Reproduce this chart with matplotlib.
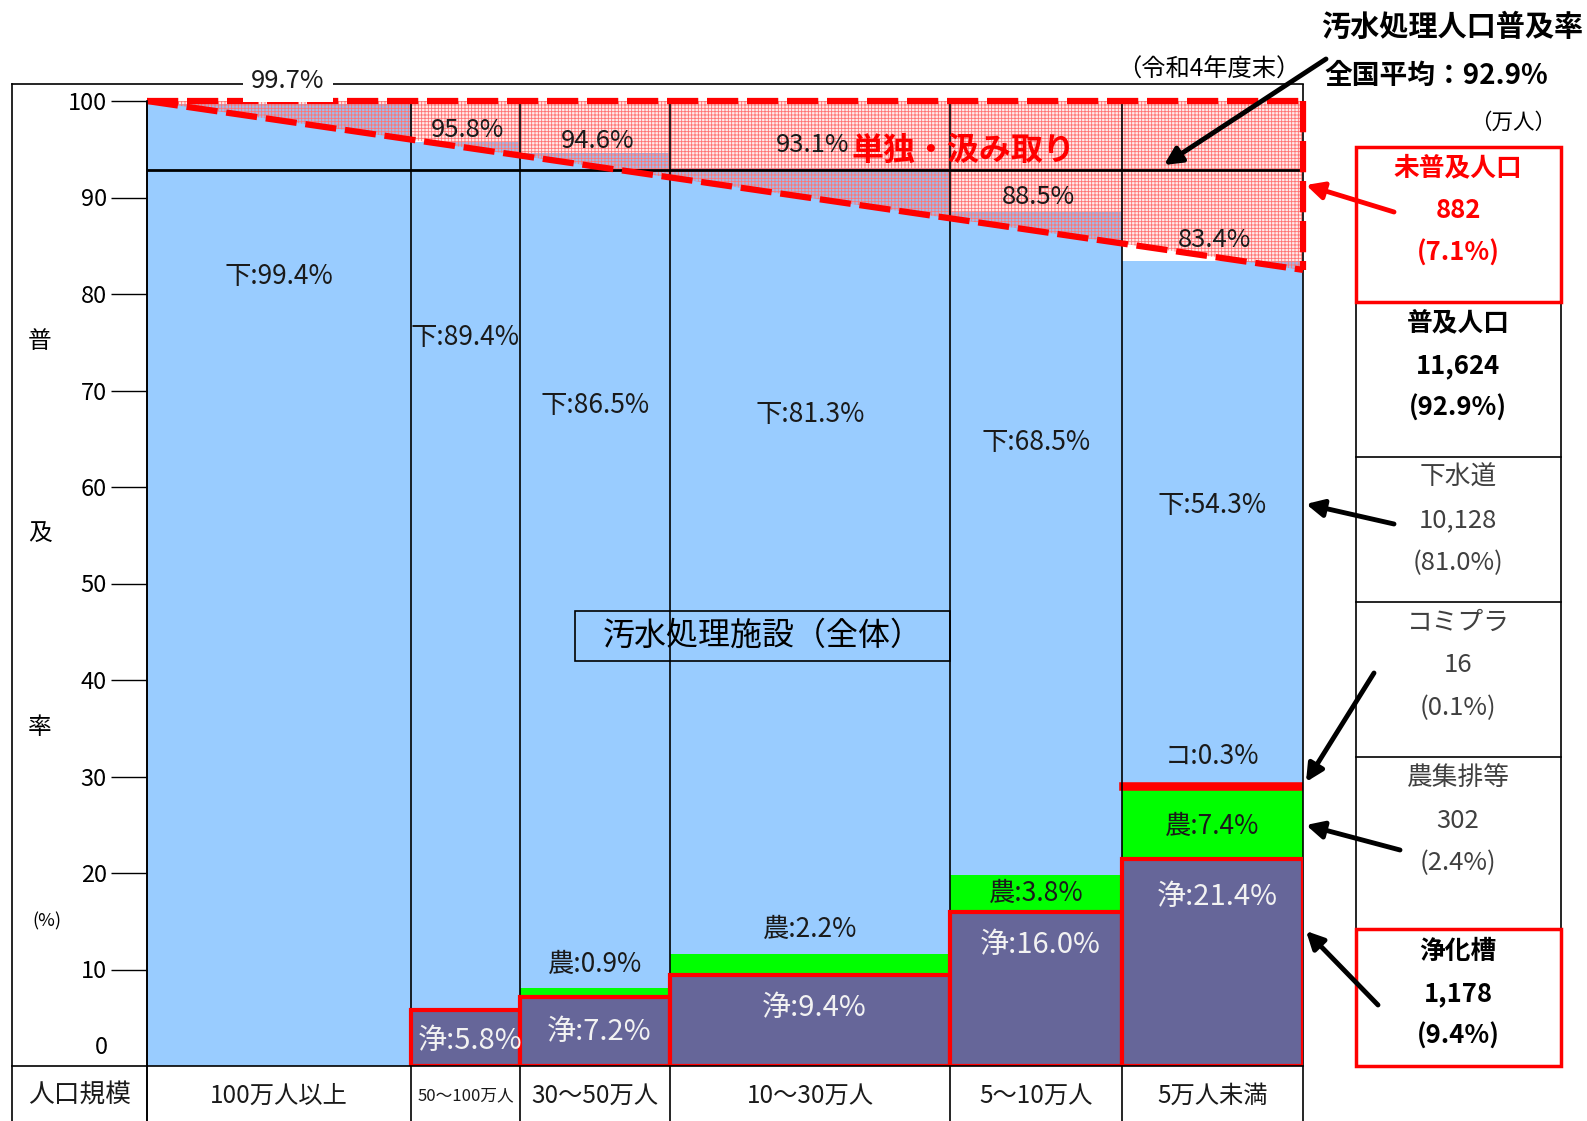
import numpy as np
import matplotlib.pyplot as plt

plt.rcParams['font.family'] = ['Noto Sans CJK JP', 'DejaVu Sans']
plt.rcParams['hatch.linewidth'] = 0.6

# Data (令和4年度末)
categories = ['100万人以上', '50～100万人', '30～50万人', '10～30万人', '5～10万人', '5万人未満']
pop_share = [22.8, 9.5, 12.9, 24.3, 14.8, 15.7]      # bar widths
total_rate = [99.7, 95.8, 94.6, 93.1, 88.5, 83.4]
sewer = [99.4, 89.4, 86.5, 81.3, 68.5, 54.3]
johkaso = [0, 5.8, 7.2, 9.4, 16.0, 21.4]
nousyu = [0, 0, 0.9, 2.2, 3.8, 7.4]
komipura = [0, 0, 0, 0, 0, 0.3]
national_avg = 92.9
diag_end = 82.5

panel_names = ['未普及人口', '普及人口', '下水道', 'コミプラ', '農集排等', '浄化槽']
panel_values = ['882', '11,624', '10,128', '16', '302', '1,178']
panel_pcts = ['(7.1%)', '(92.9%)', '(81.0%)', '(0.1%)', '(2.4%)', '(9.4%)']

# label placement (y in %)
sewer_lab_y = [81.8, 75.5, 68.4, 67.5, 64.6, 58.1]
joh_lab_y = [None, 2.6, 3.5, 6.0, 12.5, 17.5]
nou_lab_y = [None, None, 10.5, 14.2, 17.9, 24.8]
top_lab_y = [None, 97.0, 95.9, 95.4, 90.1, 85.6]

LBLUE = '#99CCFF'
PURPLE = '#666699'
GREEN = '#00FF00'
RED = '#FF0000'
GREY = '#404040'
TXT = '#1a1a1a'

fig = plt.figure(figsize=(15.87, 11.21), dpi=100)
ax = fig.add_axes([147 / 1587, 55 / 1121, 1156 / 1587, 965 / 1121])
ax.set_xlim(0, 100)
ax.set_ylim(0, 100)
for s in ax.spines.values():
    s.set_visible(False)
ax.set_xticks([])
ax.set_yticks(range(10, 101, 10))
ax.tick_params(axis='y', length=26, width=1, pad=3, labelsize=17)

w = np.array(pop_share)
left = np.concatenate([[0], np.cumsum(w)[:-1]])
centers = left + w / 2
joh = np.array(johkaso)
nou = np.array(nousyu)
kom = np.array(komipura)
blue = np.array(total_rate) - joh - nou - kom

# stacked bars
for i in range(len(categories)):
    if joh[i] > 0:
        ax.bar(left[i], joh[i], width=w[i], align='edge', color=PURPLE,
               edgecolor=RED, lw=3, zorder=5.5)
    if nou[i] > 0:
        ax.bar(left[i], nou[i], width=w[i], bottom=joh[i], align='edge',
               color=GREEN, lw=0, zorder=1)
    if kom[i] > 0:
        ax.bar(left[i], kom[i], width=w[i], bottom=joh[i] + nou[i], align='edge',
               color=RED, edgecolor=RED, lw=4, zorder=2)
    ax.bar(left[i], blue[i], width=w[i], bottom=joh[i] + nou[i] + kom[i],
           align='edge', color=LBLUE, lw=0, zorder=1)

# 単独・汲み取り overlay
ax.fill([0, 100, 100], [100, 100, diag_end], facecolor=(1, 0, 0, 0.08),
        lw=0, zorder=3)
ax.fill([0, 100, 100], [100, 100, diag_end], facecolor='none',
        edgecolor=(1, 0.45, 0.45), lw=0, hatch='+++++', zorder=3)

ax.plot([0, 100], [national_avg, national_avg], color='black', lw=2, zorder=4)

dash = dict(color=RED, lw=4.5, dashes=(5, 1.4), clip_on=False, zorder=6)
ax.plot([0, 100], [100, diag_end], **dash)
ax.plot([0, 100], [100, 100], **dash)
ax.plot([100, 100], [100, diag_end], **dash)

# column separators / table lines
ax.vlines(left, -5.7, 100, color='black', lw=1.2, clip_on=False, zorder=5)
ax.vlines(100, -5.7, 101.8, color='black', lw=1.2, clip_on=False, zorder=5)

# labels in bars
for i in range(len(categories)):
    ax.text(centers[i], sewer_lab_y[i], f'下:{sewer[i]}%', ha='center', va='center',
            fontsize=19, color=TXT, zorder=7)
    if joh_lab_y[i] is not None:
        ax.text(centers[i] + 0.4, joh_lab_y[i], f'浄:{joh[i]:.1f}%', ha='center',
                va='center', fontsize=21, color='#f2f2f2', zorder=7)
    if nou_lab_y[i] is not None:
        ax.text(centers[i], nou_lab_y[i], f'農:{nou[i]}%', ha='center', va='center',
                fontsize=19, color=TXT, zorder=7)
    if top_lab_y[i] is not None:
        ax.text(centers[i] + 0.2, top_lab_y[i], f'{total_rate[i]}%', ha='center',
                va='center', fontsize=18.5, color=TXT, zorder=7)
    ax.text(centers[i], -3.1, categories[i], ha='center', va='center',
            fontsize=12 if i == 1 else 17.5, color=TXT, clip_on=False)
ax.text(centers[5], 32.1, f'コ:{kom[5]}%', ha='center', va='center', fontsize=19,
        color=TXT, zorder=7)

ax.text(70.6, 94.8, '単独・汲み取り', ha='center', va='center', fontsize=23,
        fontweight='bold', color=RED, zorder=7)

# overlay in pixel coordinates for frame, panel and arrows
ov = fig.add_axes([0, 0, 1, 1])
ov.set_xlim(0, 1587)
ov.set_ylim(1121, 0)
ov.axis('off')
ov.patch.set_alpha(0)

ov.plot([12, 1303], [84, 84], color='black', lw=1.2)
ov.plot([12, 12], [84, 1121], color='black', lw=1.2)
ov.plot([12, 1303], [1066, 1066], color='black', lw=1.2)
ov.plot([147, 147], [101, 1121], color='black', lw=1.2)
ov.text(288, 81, '99.7%', ha='center', va='center', fontsize=18.5, color=TXT,
        bbox=dict(facecolor='white', edgecolor='none', pad=6))
ov.text(1209, 70, '（令和4年度末）', ha='center', va='center', fontsize=17.5)
ov.text(108, 1048, '0', ha='right', va='center', fontsize=17)
ov.text(80, 1096, '人口規模', ha='center', va='center', fontsize=18.5, color=TXT)

for ch, yy in zip(['普', '及', '率'], [342, 534, 727]):
    ov.text(40, yy, ch, ha='center', va='center', fontsize=17)
ov.text(47, 921, '(%)', ha='center', va='center', fontsize=13)

# 汚水処理施設（全体）
ov.add_patch(plt.Rectangle((575, 611), 375, 50, facecolor='none',
                           edgecolor='black', lw=1.2))
ov.text(763, 636, '汚水処理施設（全体）', ha='center', va='center', fontsize=23)

# title
ov.text(1583, 27, '汚水処理人口普及率', ha='right', va='center', fontsize=21,
        fontweight='bold')
ov.text(1324, 76, '全国平均：92.9%', ha='left', va='center', fontsize=20,
        fontweight='bold')
ov.text(1513, 123, '（万人）', ha='center', va='center', fontsize=15.5)

# right panel
rows = [147, 302, 457, 602, 757, 929, 1066]
px0, px1 = 1356, 1561
ov.plot([px0, px0], [302, 929], color='black', lw=1.2)
ov.plot([px1, px1], [302, 929], color='black', lw=1.2)
for yy in rows[2:5]:
    ov.plot([px0, px1], [yy, yy], color='black', lw=1.2)
for k in range(len(panel_names)):
    top, bot = rows[k], rows[k + 1]
    if k in (0, 5):
        ov.add_patch(plt.Rectangle((px0, top), px1 - px0, bot - top,
                                   facecolor='white', edgecolor=RED, lw=2.5,
                                   zorder=3))
    if k == 0:
        col, fw = RED, 'bold'
    elif k in (1, 5):
        col, fw = 'black', 'bold'
    else:
        col, fw = GREY, 'normal'
    y0 = top + 21 if k != 5 else top + 22
    for j, s in enumerate([panel_names[k], panel_values[k], panel_pcts[k]]):
        ov.text(1458, y0 + 42.5 * j, s, ha='center', va='center', fontsize=18.5,
                color=col, fontweight=fw, zorder=4)

# arrows
arrows = [((1326, 59), (1164, 165), 'black'),
          ((1394, 212), (1306, 185), RED),
          ((1394, 524), (1306, 504), 'black'),
          ((1374, 673), (1306, 782), 'black'),
          ((1400, 850), (1306, 825), 'black'),
          ((1378, 1005), (1306, 931), 'black')]
for tail, tip, col in arrows:
    ov.annotate('', xy=tip, xytext=tail,
                arrowprops=dict(arrowstyle='-|>', color=col, lw=3.5,
                                mutation_scale=26, shrinkA=0, shrinkB=0))

fig.savefig('out.png', dpi=100)
